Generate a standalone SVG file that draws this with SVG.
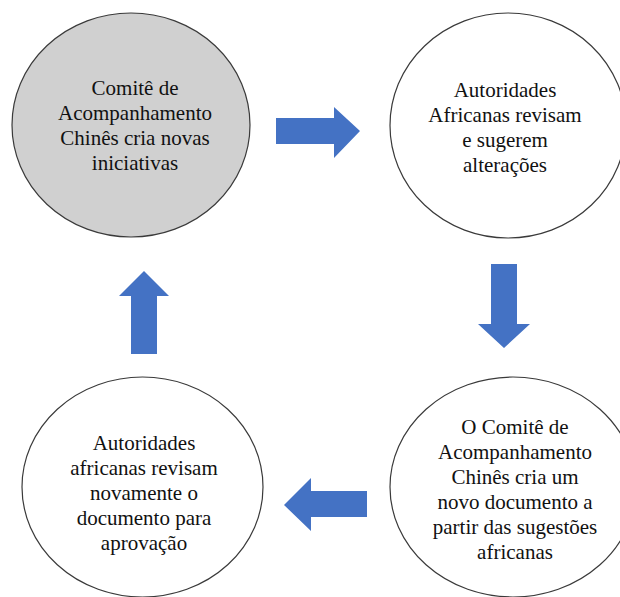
<svg xmlns="http://www.w3.org/2000/svg" width="620" height="597" viewBox="0 0 620 597">
<style>
.node{stroke:#3a3a3a;stroke-width:1.2;fill:#ffffff}
.gray{fill:#d0d0d0}
.lbl{font-family:'Liberation Serif','Times New Roman',serif;font-size:21px;fill:#111111;text-anchor:middle}
.arrow{fill:#4472c4;stroke:none}
</style>
<rect width="620" height="597" fill="#ffffff"/>
<g id="connectors">
<polygon class="arrow" points="276,118 334,118 334,107 360,131 334,158 334,144 276,144"/>
<polygon class="arrow" points="491,264 517,264 517,324 530,324 504,348 478,324 491,324"/>
<polygon class="arrow" points="367,491 367,517 311,517 311,531 284,505 311,478 311,491"/>
<polygon class="arrow" points="131,354 157,354 157,296 169,296 144,271 119,296 131,296"/>
</g>
<g id="node1">
<ellipse class="node gray" cx="131" cy="125" rx="119" ry="112"/>
<text class="lbl" x="135" y="95">Comitê de</text>
<text class="lbl" x="135" y="120">Acompanhamento</text>
<text class="lbl" x="135" y="145">Chinês cria novas</text>
<text class="lbl" x="135" y="170">iniciativas</text>
</g>
<g id="node2">
<ellipse class="node" cx="508" cy="125.5" rx="118" ry="112.5"/>
<text class="lbl" x="505" y="97">Autoridades</text>
<text class="lbl" x="505" y="122">Africanas revisam</text>
<text class="lbl" x="505" y="147">e sugerem</text>
<text class="lbl" x="505" y="172">alterações</text>
</g>
<g id="node3">
<ellipse class="node" cx="513" cy="487" rx="123" ry="110"/>
<text class="lbl" x="515" y="434">O Comitê de</text>
<text class="lbl" x="515" y="459">Acompanhamento</text>
<text class="lbl" x="515" y="484">Chinês cria um</text>
<text class="lbl" x="515" y="509">novo documento a</text>
<text class="lbl" x="515" y="534">partir das sugestões</text>
<text class="lbl" x="515" y="559">africanas</text>
</g>
<g id="node4">
<ellipse class="node" cx="142.5" cy="487" rx="120.5" ry="110"/>
<text class="lbl" x="144" y="450">Autoridades</text>
<text class="lbl" x="144" y="475">africanas revisam</text>
<text class="lbl" x="144" y="500">novamente o</text>
<text class="lbl" x="144" y="525">documento para</text>
<text class="lbl" x="144" y="550">aprovação</text>
</g>
</svg>
